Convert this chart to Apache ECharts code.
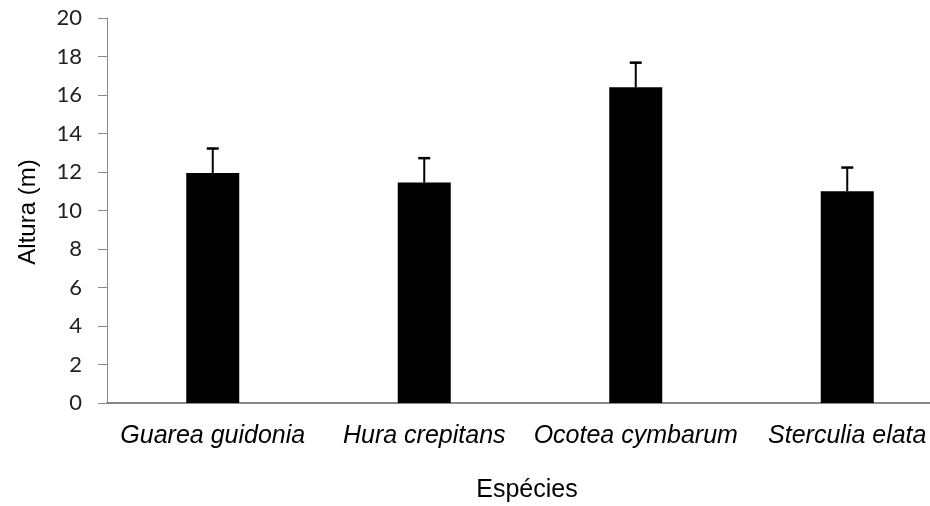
<!DOCTYPE html>
<html>
<head>
<meta charset="utf-8">
<script src="https://cdn.jsdelivr.net/npm/echarts@6/dist/echarts.min.js"></script>
<style>
  html, body { margin: 0; padding: 0; background: #fff; }
  #chart { width: 930px; height: 506px; }
</style>
</head>
<body>
<div id="chart"></div>
<script>
// Mean tree height per species with the upper error (standard deviation)
const species = ['Guarea guidonia', 'Hura crepitans', 'Ocotea cymbarum', 'Sterculia elata'];
const meanHeight = [11.95, 11.45, 16.4, 11.0];
const errorUp = [1.27, 1.27, 1.28, 1.23];
const yTicks = [0, 2, 4, 6, 8, 10, 12, 14, 16, 18, 20];

const chart = echarts.init(document.getElementById('chart'), null, { renderer: 'canvas' });

const errorData = species.map((s, i) => [i, meanHeight[i], meanHeight[i] + errorUp[i]]);

chart.setOption({
  animation: false,
  backgroundColor: '#ffffff',
  // plot area runs past the right edge of the canvas
  grid: { left: 107, top: 18, bottom: 103, width: 846, outerBoundsMode: 'none', containLabel: false },
  xAxis: {
    type: 'category',
    data: species,
    axisLine: { lineStyle: { color: '#898989', width: 2 } },
    axisTick: { show: false },
    axisLabel: {
      interval: 0,
      margin: 21,
      fontFamily: 'Liberation Sans',
      fontStyle: 'italic',
      fontSize: 25,
      color: '#000'
    }
  },
  yAxis: {
    type: 'value',
    min: yTicks[0],
    max: yTicks[yTicks.length - 1],
    interval: 2,
    axisLine: { show: true, lineStyle: { color: '#898989', width: 1 } },
    axisTick: { show: true, length: 9, lineStyle: { color: '#898989' } },
    splitLine: { show: false },
    axisLabel: {
      margin: 25,
      fontFamily: 'Lato',
      fontSize: 22,
      color: '#222'
    }
  },
  graphic: [
    {
      type: 'text',
      x: 527,
      y: 490,
      style: { text: 'Espécies', fontFamily: 'Liberation Sans', fontSize: 25, fill: '#000', align: 'center', verticalAlign: 'middle' }
    },
    {
      type: 'text',
      x: 28,
      y: 212,
      rotation: Math.PI / 2,
      style: { text: 'Altura (m)', fontFamily: 'Liberation Sans', fontSize: 24, fill: '#000', align: 'center', verticalAlign: 'middle' }
    }
  ],
  series: [
    {
      type: 'bar',
      data: meanHeight,
      barWidth: 53,
      itemStyle: { color: '#000' },
      z: 2
    },
    {
      type: 'custom',
      data: errorData,
      z: 3,
      renderItem: function (params, api) {
        const base = api.coord([api.value(0), api.value(1)]);
        const top = api.coord([api.value(0), api.value(2)]);
        const half = 6;
        return {
          type: 'group',
          children: [
            { type: 'line', shape: { x1: base[0], y1: base[1], x2: top[0], y2: top[1] },
              style: { stroke: '#000', lineWidth: 2 } },
            { type: 'line', shape: { x1: top[0] - half, y1: top[1], x2: top[0] + half, y2: top[1] },
              style: { stroke: '#000', lineWidth: 2.5 } }
          ]
        };
      }
    }
  ]
});
</script>
</body>
</html>
